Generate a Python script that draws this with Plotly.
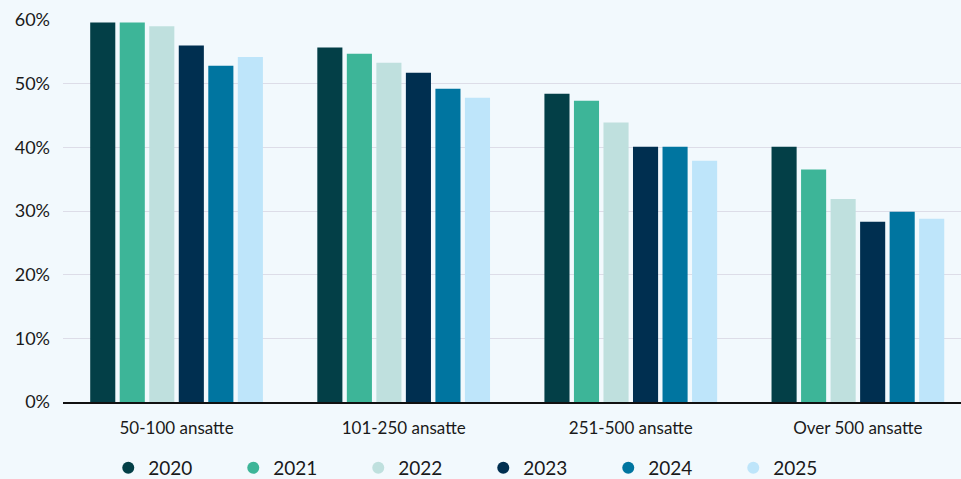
import plotly.graph_objects as go

categories = ["50-100 ansatte", "101-250 ansatte", "251-500 ansatte", "Over 500 ansatte"]
years = ["2020", "2021", "2022", "2023", "2024", "2025"]
values = {
    "2020": [59.6, 55.7, 48.4, 40.1],
    "2021": [59.6, 54.7, 47.3, 36.5],
    "2022": [59.0, 53.3, 43.9, 31.9],
    "2023": [56.0, 51.7, 40.1, 28.3],
    "2024": [52.8, 49.2, 40.1, 29.9],
    "2025": [54.2, 47.8, 37.9, 28.8],
}
colors = ["#033f47", "#3db598", "#bfe0de", "#002f50", "#0075a0", "#bee5fa"]
y_ticks = [0, 10, 20, 30, 40, 50, 60]

BG = "#f2f9fd"
FONT = "Lato, 'Noto Sans', sans-serif"

fig = go.Figure()
for year, color in zip(years, colors):
    fig.add_trace(go.Bar(
        x=categories, y=values[year], name=year,
        marker=dict(color=color, line=dict(width=0)),
        showlegend=False,
    ))
# circular legend markers
for year, color in zip(years, colors):
    fig.add_trace(go.Scatter(
        x=[None], y=[None], mode="markers", name=year,
        marker=dict(color=color, size=13, symbol="circle"),
    ))

fig.update_layout(
    width=961, height=479,
    paper_bgcolor=BG, plot_bgcolor=BG,
    margin=dict(l=63, r=0, t=20, b=77, autoexpand=False),
    barmode="group", bargap=0.22, bargroupgap=0.15,
    font=dict(family=FONT, color="#1a1a1a", size=16),
    xaxis=dict(
        type="category", range=[-0.5, 3.454],
        showgrid=False, showline=True, linecolor="#111111", linewidth=1.5,
        ticks="", tickfont=dict(size=17), ticklabelstandoff=10,
    ),
    yaxis=dict(
        range=[0, 60], tickvals=y_ticks,
        ticktext=[f"{v}%" for v in y_ticks],
        showgrid=True, gridcolor="#dddde8", gridwidth=1.2,
        zeroline=False, ticks="", tickfont=dict(size=18),
        ticklabelstandoff=12,
    ),
    legend=dict(
        orientation="h", x=0.468, xanchor="center",
        yref="container", y=0.023, yanchor="middle",
        entrywidth=80, entrywidthmode="pixels",
        font=dict(size=19), bgcolor="rgba(0,0,0,0)", itemsizing="constant",
    ),
)

fig.write_html("out.html")
